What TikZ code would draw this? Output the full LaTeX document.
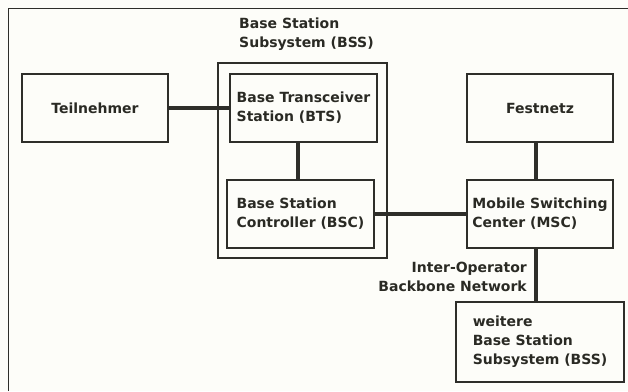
\documentclass[tikz,border=0pt]{standalone}
\usepackage{fontspec}
\setmainfont{DejaVu Sans}
\begin{document}
\begin{tikzpicture}[x=1pt,y=-1pt,
  box/.style={draw=linec, line width=1.8pt, rectangle, inner sep=0pt, align=left,
    font=\fontsize{14}{19}\selectfont\bfseries, text=txt},
  lbl/.style={inner sep=0pt, align=left, font=\fontsize{14}{19}\selectfont\bfseries, text=txt},
  conn/.style={draw=linec, line width=3.6pt}]
\definecolor{linec}{HTML}{2E2E2A}
\definecolor{txt}{HTML}{2A2A24}
\definecolor{bg}{HTML}{FDFDF9}
\useasboundingbox[fill=bg] (0,0) rectangle (628,391);
% frame
\draw[linec, line width=1.6pt] (8.5,391) -- (8.5,8.5) -- (628,8.5);
% BSS group
\node[draw=linec, line width=1.8pt, rectangle, inner sep=0pt, minimum width=169pt, minimum height=195pt] (bss) at (302.5,160.5) {};
\node[lbl, anchor=north west] (bsslbl) at (239,18) {Base Station\\Subsystem (BSS)};
% boxes
\node[box, minimum width=146pt, minimum height=68pt] (tn) at (95,108) {Teilnehmer};
\node[box, minimum width=147pt, minimum height=68pt] (bts) at (303.5,108) {Base Transceiver\\Station (BTS)};
\node[box, minimum width=147pt, minimum height=68pt] (bsc) at (300.5,214) {Base Station\\Controller (BSC)};
\node[box, minimum width=146pt, minimum height=68pt] (fn) at (540,108) {Festnetz};
\node[box, minimum width=146pt, minimum height=68pt] (msc) at (540,214) {Mobile Switching\\Center (MSC)};
\node[box, minimum width=168pt, minimum height=80pt] (wbss) at (540,342) {weitere\\Base Station\\Subsystem (BSS)};
% connectors
\draw[conn] (tn.east) -- (bts.west);
\draw[conn] (bts.south -| 298,0) -- (bsc.north -| 298,0);
\draw[conn] (bsc.east) -- (msc.west);
\coordinate (fnb) at ([xshift=-4pt]fn.south);
\coordinate (mscb) at ([xshift=-4pt]msc.south);
\draw[conn] (fnb) -- (fnb |- msc.north);
\draw[conn] (mscb) -- (mscb |- wbss.north);
\node[lbl, anchor=north east, align=right] (iob) at (527,262) {Inter-Operator\\Backbone Network};
\end{tikzpicture}
\end{document}
